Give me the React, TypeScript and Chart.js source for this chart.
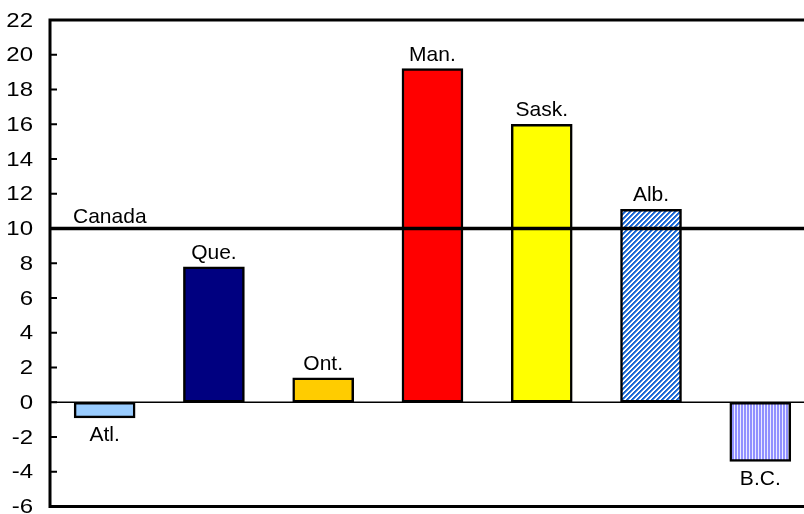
import { useEffect, useRef } from "react";
import { Chart, registerables } from "chart.js";

Chart.register(...registerables);

const regions = ["Atl.", "Que.", "Ont.", "Man.", "Sask.", "Alb.", "B.C."];
const growth = [-0.9, 7.8, 1.4, 19.2, 16.0, 11.1, -3.4];
const canadaLabel = "Canada";
const canadaValue = 10;
const yMin = -6;
const yMax = 22;
const yStep = 2;

const FONT = '"Liberation Sans", Arial, sans-serif';

function stripePattern(kind: "diag" | "vert"): CanvasPattern | string {
  const c = document.createElement("canvas");
  const size = kind === "diag" ? 5 : 3;
  c.width = size;
  c.height = size;
  const g = c.getContext("2d");
  if (!g) return "#1e6fd8";
  for (let x = 0; x < size; x++) {
    for (let y = 0; y < size; y++) {
      let col: string;
      if (kind === "diag") {
        const m = (x + y) % 5;
        col = m === 0 || m === 1 ? "#1a68d4" : m === 2 ? "#5a93e2" : "#ffffff";
      } else {
        col = x === 2 ? "#ececff" : "#9191ff";
      }
      g.fillStyle = col;
      g.fillRect(x, y, 1, 1);
    }
  }
  const p = g.createPattern(c, "repeat");
  return p || "#1e6fd8";
}

const framePlugin = {
  id: "frame",
  beforeDatasetsDraw(chart: any) {
    const { ctx, chartArea, scales } = chart;
    const y0 = scales.y.getPixelForValue(0);
    ctx.save();
    ctx.strokeStyle = "#000";
    ctx.lineWidth = 1.5;
    ctx.beginPath();
    ctx.moveTo(chartArea.left, y0);
    ctx.lineTo(chartArea.right, y0);
    ctx.stroke();
    ctx.restore();
  },
  afterDatasetsDraw(chart: any) {
    const { ctx, chartArea, scales } = chart;
    const { left, right, top, bottom } = chartArea;
    const ys = scales.y;
    ctx.save();
    ctx.strokeStyle = "#000";
    // Canada line
    const yc = ys.getPixelForValue(canadaValue);
    ctx.lineWidth = 3.5;
    ctx.beginPath();
    ctx.moveTo(left, yc);
    ctx.lineTo(right, yc);
    ctx.stroke();
    ctx.fillStyle = "#000";
    ctx.font = `21px ${FONT}`;
    ctx.textAlign = "left";
    ctx.textBaseline = "alphabetic";
    ctx.fillText(canadaLabel, left + 23, yc - 6);

    // frame
    ctx.lineWidth = 3;
    ctx.beginPath();
    ctx.moveTo(left, top);
    ctx.lineTo(right, top);
    ctx.moveTo(left, bottom);
    ctx.lineTo(right, bottom);
    ctx.moveTo(left, top - 1.5);
    ctx.lineTo(left, bottom + 1.5);
    ctx.stroke();

    // inward ticks + tick labels (slightly widened, as in the reference)
    ctx.lineWidth = 2;
    ctx.beginPath();
    ys.ticks.forEach((t: any) => {
      const py = ys.getPixelForValue(t.value);
      ctx.moveTo(left, py);
      ctx.lineTo(left + 7, py);
    });
    ctx.stroke();
    ctx.font = `20px ${FONT}`;
    ctx.textAlign = "right";
    ctx.textBaseline = "middle";
    ys.ticks.forEach((t: any) => {
      const py = ys.getPixelForValue(t.value);
      ctx.save();
      ctx.translate(left - 17, py + 1);
      ctx.scale(1.2, 1);
      ctx.fillText(String(t.label), 0, 0);
      ctx.restore();
    });

    // bar labels
    ctx.font = `21px ${FONT}`;
    const meta = chart.getDatasetMeta(0);
    ctx.textAlign = "center";
    meta.data.forEach((el: any, i: number) => {
      const v = growth[i];
      if (v >= 0) {
        ctx.textBaseline = "alphabetic";
        ctx.fillText(regions[i], el.x, el.y - 8);
      } else {
        ctx.textBaseline = "top";
        ctx.fillText(regions[i], el.x, el.y + 7);
      }
    });
    ctx.restore();
  },
};

export default function App() {
  const ref = useRef<HTMLCanvasElement | null>(null);

  useEffect(() => {
    const canvas = ref.current;
    if (!canvas) return;
    const colors: any[] = [
      "#99ccff",
      "#000080",
      "#ffcc00",
      "#ff0000",
      "#ffff00",
      stripePattern("diag"),
      stripePattern("vert"),
    ];
    const chart = new Chart(canvas, {
      type: "bar",
      data: {
        datasets: [
          {
            data: growth.map((v, i) => ({ x: i, y: v })),
            backgroundColor: colors,
            borderColor: "#000",
            borderWidth: 2.5,
            borderSkipped: false,
            barThickness: 61,
          },
        ],
      },
      options: {
        animation: false,
        responsive: true,
        maintainAspectRatio: false,
        layout: { padding: { top: 20, bottom: 7.5, left: 0, right: 0 } },
        plugins: {
          legend: { display: false },
          tooltip: { enabled: false },
        },
        scales: {
          x: {
            type: "linear",
            min: -0.5,
            max: 6.4,
            offset: false,
            display: false,
          },
          y: {
            min: yMin,
            max: yMax,
            border: { display: false },
            grid: { display: false, drawTicks: false },
            ticks: {
              stepSize: yStep,
              display: false,
            },
            afterFit: (scale: any) => {
              scale.width = 50;
              scale.paddingTop = 0;
              scale.paddingBottom = 0;
            },
          },
        },
      },
      plugins: [framePlugin],
    });
    return () => chart.destroy();
  }, []);

  return (
    <div style={{ position: "fixed", left: 0, top: 0, width: 804, height: 514 }}>
      <canvas ref={ref} />
    </div>
  );
}
